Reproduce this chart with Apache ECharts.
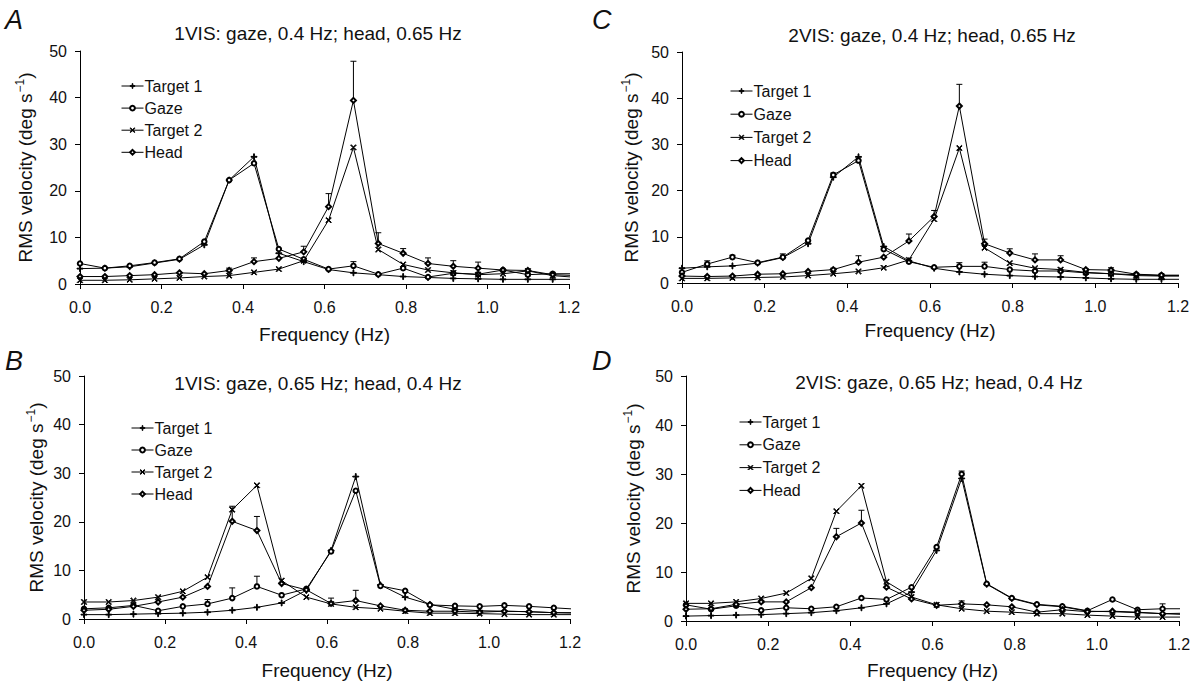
<!DOCTYPE html>
<html>
<head>
<meta charset="utf-8">
<title>RMS velocity spectra</title>
<script src="https://cdn.jsdelivr.net/npm/echarts@6/dist/echarts.min.js"></script>
<style>
  html, body { margin: 0; padding: 0; background: #fff; }
  #chart { width: 1195px; height: 682px; }
</style>
</head>
<body>
<div id="chart"></div>
<script>
// Frequency bins (Hz); the last bin lies just past the axis end and is clipped.
const freqHz = [0, 0.061, 0.122, 0.183, 0.244, 0.305, 0.366, 0.427, 0.488, 0.549, 0.610,
                0.671, 0.732, 0.793, 0.854, 0.916, 0.977, 1.038, 1.099, 1.160, 1.221];

const seriesNames = ['Target 1', 'Gaze', 'Target 2', 'Head'];
const xTicks = [0, 0.2, 0.4, 0.6, 0.8, 1.0, 1.2];
const yTicks = [0, 10, 20, 30, 40, 50];

// A: 1VIS, gaze 0.4 Hz, head 0.65 Hz
const a_target1 = [3.3, 3.4, 3.7, 4.5, 5.3, 8.4, 22.3, 27.3, 6.6, 4.8, 3.1, 2.4, 2.0, 1.6, 1.4, 1.2, 1.1, 1.0, 1.0, 1.0, 1.0];
const a_gaze    = [4.4, 3.4, 3.9, 4.6, 5.4, 9.1, 22.3, 25.9, 7.5, 5.3, 3.2, 3.9, 2.1, 3.4, 1.5, 2.3, 2.1, 3.0, 2.0, 2.2, 2.2];
const a_target2 = [0.8, 0.8, 0.9, 1.1, 1.3, 1.6, 1.8, 2.5, 3.2, 5.0, 13.7, 29.3, 7.4, 4.2, 3.0, 2.4, 2.0, 2.2, 2.8, 1.8, 1.4];
const a_head    = [1.6, 1.6, 1.8, 2.0, 2.4, 2.2, 2.9, 4.8, 5.5, 6.9, 16.6, 39.4, 8.7, 6.6, 4.4, 3.8, 3.4, 3.0, 2.9, 2.0, 1.8];
const a_gazeErr = [null, null, null, null, null, null, null, null, null, null, null, 4.8, null, null, null, null, null, null, null, null, null];
const a_headErr = [null, null, null, null, null, null, 3.4, 5.6, null, 8.1, 19.4, 47.8, 11.0, 7.6, 5.6, 5.0, 4.7, null, null, 2.5, null];

// B: 1VIS, gaze 0.65 Hz, head 0.4 Hz
const b_target1 = [0.9, 0.9, 1.0, 1.1, 1.2, 1.4, 1.8, 2.4, 3.3, 5.9, 14.1, 29.3, 7.0, 4.5, 3.0, 2.0, 1.7, 1.6, 1.5, 1.3, 1.2];
const b_gaze    = [2.1, 2.3, 2.8, 1.7, 2.6, 3.1, 4.3, 6.7, 4.9, 6.2, 13.9, 26.4, 6.8, 5.8, 2.9, 2.7, 2.6, 2.8, 2.6, 2.3, 2.0];
const b_target2 = [3.5, 3.5, 3.8, 4.5, 5.7, 8.6, 22.5, 27.5, 7.9, 4.5, 3.1, 2.4, 2.1, 1.6, 1.2, 1.2, 1.1, 1.0, 0.9, 0.9, 0.9];
const b_head    = [1.8, 2.0, 2.6, 3.5, 4.5, 6.7, 20.1, 18.2, 7.3, 6.0, 3.2, 3.8, 2.7, 1.8, 1.6, 1.6, 1.4, 1.6, 1.5, 1.3, 1.3];
const b_gazeErr = [null, null, null, null, null, 4.0, 6.4, 8.8, null, null, null, null, null, null, null, null, null, null, null, null, null];
const b_headErr = [null, null, null, null, null, null, 23.2, 21.1, null, null, 4.3, 5.9, null, null, null, null, null, null, null, null, null];

// C: 2VIS, gaze 0.4 Hz, head 0.65 Hz
const c_target1 = [3.2, 3.5, 3.7, 4.3, 5.5, 8.5, 22.9, 27.3, 7.9, 4.8, 3.2, 2.4, 1.9, 1.6, 1.4, 1.3, 1.1, 0.9, 0.8, 0.8, 0.8];
const c_gaze    = [2.3, 4.1, 5.6, 4.4, 5.6, 9.2, 23.4, 26.5, 7.3, 4.6, 3.4, 3.6, 3.6, 2.9, 2.6, 2.6, 2.2, 2.0, 1.8, 1.6, 1.6];
const c_target2 = [1.0, 1.0, 1.1, 1.2, 1.3, 1.6, 2.0, 2.5, 3.3, 5.0, 13.8, 29.2, 7.6, 4.3, 3.2, 2.9, 2.3, 2.0, 1.6, 1.5, 1.5];
const c_head    = [1.5, 1.4, 1.5, 1.9, 2.0, 2.5, 2.9, 4.5, 5.6, 9.1, 14.4, 38.3, 8.5, 6.5, 5.0, 5.0, 2.9, 2.8, 1.9, 1.7, 1.7];
const c_gazeErr = [null, 4.8, 6.0, null, 6.3, null, 23.8, null, null, null, null, 4.4, 4.5, null, null, null, null, null, null, null, null];
const c_headErr = [null, null, null, null, null, null, 3.2, 5.9, null, 10.6, 15.7, 43.0, 9.5, 7.4, 6.3, 5.9, 3.0, 3.3, null, null, null];

// D: 2VIS, gaze 0.65 Hz, head 0.4 Hz
const d_target1 = [1.0, 1.1, 1.2, 1.3, 1.5, 1.7, 2.1, 2.7, 3.5, 5.9, 14.4, 29.1, 7.5, 4.6, 3.3, 2.9, 2.0, 1.9, 1.7, 1.5, 1.3];
const d_gaze    = [3.3, 2.4, 3.1, 2.2, 2.7, 2.5, 2.9, 4.7, 4.4, 6.9, 15.1, 30.0, 7.6, 4.7, 3.4, 3.0, 2.1, 4.4, 2.3, 2.5, 2.5];
const d_target2 = [3.6, 3.6, 3.9, 4.6, 5.7, 8.7, 22.4, 27.6, 8.0, 4.9, 3.3, 2.5, 2.0, 1.8, 1.5, 1.5, 1.2, 1.0, 0.8, 0.8, 0.8];
const d_head    = [2.4, 2.5, 3.4, 3.9, 3.9, 6.8, 17.2, 20.0, 6.9, 4.5, 3.2, 3.5, 3.3, 2.9, 1.8, 2.3, 1.9, 2.0, 1.8, 1.5, 1.6];
const d_gazeErr = [null, null, null, null, null, null, null, null, null, null, null, 30.6, null, null, null, null, null, null, null, 3.5, null];
const d_headErr = [null, null, null, null, null, null, 18.9, 22.6, null, null, null, 4.1, null, null, null, null, null, null, null, null, null];

const panelTitles = [
  '1VIS: gaze, 0.4 Hz; head, 0.65 Hz',
  '1VIS: gaze, 0.65 Hz; head, 0.4 Hz',
  '2VIS: gaze, 0.4 Hz; head, 0.65 Hz',
  '2VIS: gaze, 0.65 Hz; head, 0.4 Hz'
];
const panelLetters = ['A', 'B', 'C', 'D'];

const FONT = '"Liberation Sans", Arial, Helvetica, sans-serif';
const INK = '#111';

// Marker shapes (thin plus and cross)
const PLUS = 'path://M4.3,0H5.7V4.3H10V5.7H5.7V10H4.3V5.7H0V4.3H4.3Z';
const CROSS = 'path://M1,0L5,4L9,0L10,1L6,5L10,9L9,10L5,6L1,10L0,9L4,5L0,1Z';
const markers = {
  'Target 1': { symbol: PLUS, size: 6 },
  'Gaze': { symbol: 'emptyCircle', size: 4.5 },
  'Target 2': { symbol: CROSS, size: 5.5 },
  'Head': { symbol: 'emptyDiamond', size: 5 }
};

// Panel geometry: plot area, axis name gaps, legend and heading placement
const panels = [
  { key: 'A', grid: { left: 80, top: 51, width: 489, height: 233 }, xGap: 41, yGap: 44,
    legend: { left: 121, top: 78, gap: 6.1 }, title: [318, 33], letter: [5, 20],
    data: [a_target1, a_gaze, a_target2, a_head], err: [a_gazeErr, a_headErr], idx: 0 },
  { key: 'B', grid: { left: 84, top: 376, width: 486, height: 243 }, xGap: 42, yGap: 37,
    legend: { left: 131, top: 420, gap: 6.0 }, title: [318, 383], letter: [5, 361],
    data: [b_target1, b_gaze, b_target2, b_head], err: [b_gazeErr, b_headErr], idx: 1 },
  { key: 'C', grid: { left: 682, top: 52, width: 496, height: 231 }, xGap: 38, yGap: 40,
    legend: { left: 730, top: 83, gap: 7.2 }, title: [932, 35], letter: [592, 20],
    data: [c_target1, c_gaze, c_target2, c_head], err: [c_gazeErr, c_headErr], idx: 2 },
  { key: 'D', grid: { left: 686, top: 376, width: 493, height: 245 }, xGap: 40, yGap: 42,
    legend: { left: 739, top: 414, gap: 6.8 }, title: [939, 382], letter: [592, 361],
    data: [d_target1, d_gaze, d_target2, d_head], err: [d_gazeErr, d_headErr], idx: 3 }
];

const pairs = (ys) => freqHz.map((f, i) => [f, ys[i]]);
const errData = (base, tops) => {
  const out = [];
  tops.forEach((t, i) => { if (t != null) out.push([freqHz[i], base[i], t]); });
  return out;
};

function renderErrorBar(params, api) {
  const x = api.value(0);
  const lo = api.coord([x, api.value(1)]);
  const hi = api.coord([x, api.value(2)]);
  const cap = 3;
  const style = { stroke: '#000', lineWidth: 1, fill: null };
  return {
    type: 'group',
    children: [
      { type: 'line', shape: { x1: lo[0], y1: lo[1], x2: hi[0], y2: hi[1] }, style },
      { type: 'line', shape: { x1: hi[0] - cap, y1: hi[1], x2: hi[0] + cap, y2: hi[1] }, style }
    ]
  };
}

const grid = [], xAxis = [], yAxis = [], series = [], legend = [], graphic = [];

panels.forEach((p) => {
  const i = p.idx;
  grid.push(Object.assign({ containLabel: false }, p.grid));

  xAxis.push({
    type: 'value', gridIndex: i, min: xTicks[0], max: xTicks[xTicks.length - 1], interval: 0.2,
    name: 'Frequency (Hz)', nameLocation: 'middle', nameGap: p.xGap,
    nameTextStyle: { fontFamily: FONT, fontSize: 19, color: INK },
    axisLine: { show: true, onZero: false, lineStyle: { color: '#000', width: 1 } },
    axisTick: { show: true, inside: false, length: 5, lineStyle: { color: '#000' } },
    axisLabel: { fontFamily: FONT, fontSize: 16, color: INK, margin: 15,
                 formatter: (v) => v.toFixed(1) },
    splitLine: { show: false }
  });

  yAxis.push({
    type: 'value', gridIndex: i, min: yTicks[0], max: yTicks[yTicks.length - 1], interval: 10,
    name: '{n|RMS velocity (deg s}{s|−1}{n|)}', nameLocation: 'middle', nameGap: p.yGap, nameRotate: 90,
    nameTextStyle: {
      fontFamily: FONT, fontSize: 19, color: INK,
      rich: {
        n: { fontFamily: FONT, fontSize: 19, color: INK, lineHeight: 22 },
        s: { fontFamily: FONT, fontSize: 12, color: INK, lineHeight: 22, verticalAlign: 'top', padding: [0, 0, 6, 1] }
      }
    },
    axisLine: { show: true, onZero: false, lineStyle: { color: '#000', width: 1 } },
    axisTick: { show: true, inside: false, length: 5, lineStyle: { color: '#000' } },
    axisLabel: { fontFamily: FONT, fontSize: 16, color: INK, margin: 13 },
    splitLine: { show: false }
  });

  seriesNames.forEach((name, k) => {
    series.push({
      name, type: 'line', xAxisIndex: i, yAxisIndex: i,
      data: pairs(p.data[k]),
      symbol: markers[name].symbol, symbolSize: markers[name].size,
      showSymbol: true, showAllSymbol: true, clip: true,
      lineStyle: { color: '#000', width: 1 },
      itemStyle: { color: '#000', borderColor: '#000', borderWidth: 1 },
      animation: false, silent: true
    });
  });

  // Upward standard-error bars for gaze and head
  series.push({
    type: 'custom', name: 'err' + p.key, xAxisIndex: i, yAxisIndex: i,
    data: errData(p.data[1], p.err[0]).concat(errData(p.data[3], p.err[1])),
    encode: { x: 0, y: [1, 2] },
    renderItem: renderErrorBar, clip: true, animation: false, silent: true, z: 1
  });

  legend.push({
    data: seriesNames, orient: 'vertical', left: p.legend.left, top: p.legend.top,
    itemWidth: 22, itemHeight: 6, itemGap: p.legend.gap, padding: 0,
    itemStyle: { borderWidth: 1 },
    lineStyle: { width: 1 },
    textStyle: { fontFamily: FONT, fontSize: 16, color: INK, lineHeight: 14, padding: [0, 0, 0, -4] },
    selectedMode: false
  });

  graphic.push({
    type: 'text', x: p.title[0], y: p.title[1],
    style: { text: panelTitles[i], font: '19px ' + FONT, fill: INK,
             textAlign: 'center', textVerticalAlign: 'middle' }
  });
  graphic.push({
    type: 'text', x: p.letter[0], y: p.letter[1],
    style: { text: panelLetters[i], font: 'italic 27px ' + FONT, fill: INK,
             textAlign: 'left', textVerticalAlign: 'middle' }
  });
});

const chart = echarts.init(document.getElementById('chart'), null, { renderer: 'svg' });
chart.setOption({
  backgroundColor: '#fff',
  animation: false,
  grid, xAxis, yAxis, series, legend, graphic
});
</script>
</body>
</html>
